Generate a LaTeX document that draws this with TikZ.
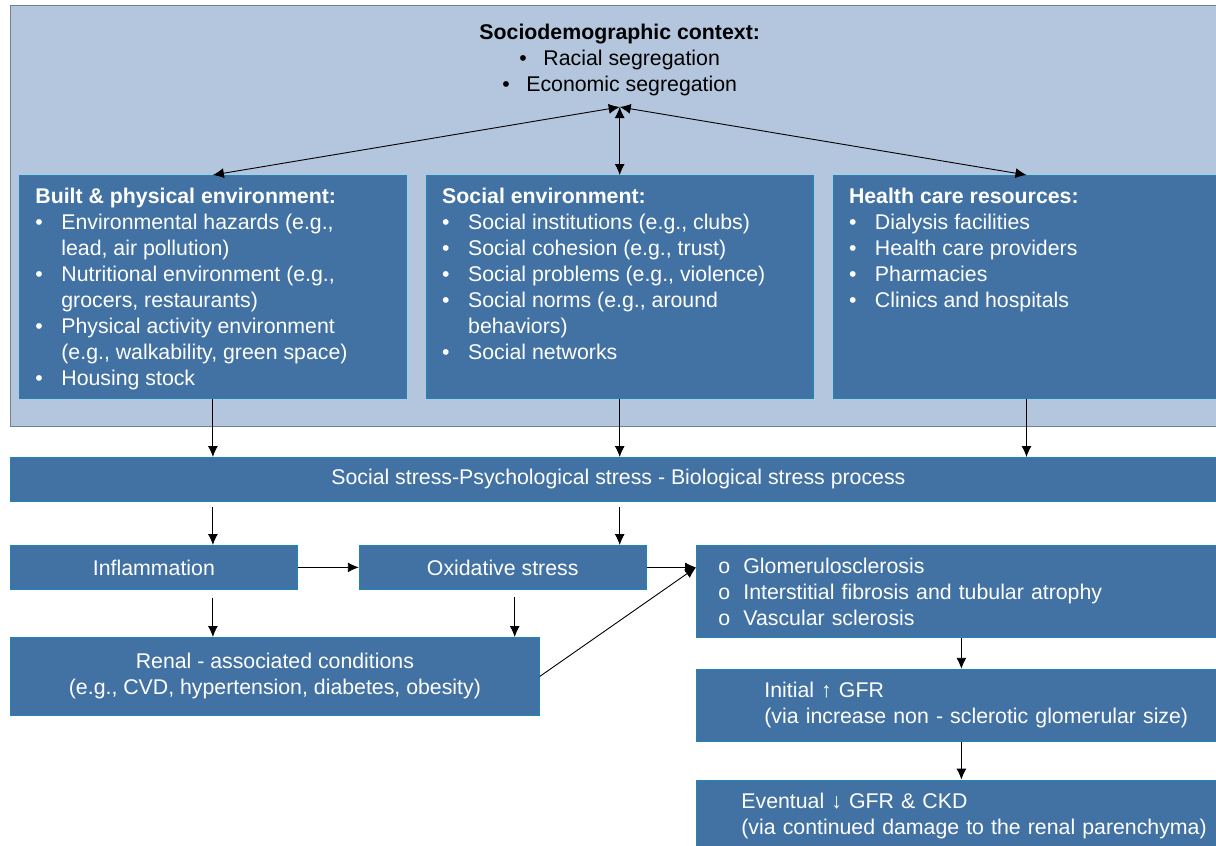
\documentclass[tikz,border=0pt]{standalone}
\usepackage{fontspec}
\setmainfont{Liberation Sans}
\usetikzlibrary{arrows.meta,positioning}

\definecolor{ctxfill}{HTML}{B4C6DD}
\definecolor{ctxline}{HTML}{6F8097}
\definecolor{boxfill}{HTML}{4272A4}
\definecolor{boxline}{HTML}{1E86B4}

\newcommand{\bul}{\makebox[26pt][l]{\textbullet}}
\newcommand{\cont}{\hspace*{26pt}}
\newcommand{\sub}{\hspace*{12pt}\makebox[25pt][l]{o}}

\begin{document}
\begin{tikzpicture}[x=1pt, y=-1pt, > = {Latex[length=11pt, width=10pt]}]
    \tikzset{
      blk/.style={draw=boxline, fill=boxfill, text=white, line width=0.8pt, font=\fontsize{21.3}{26}\selectfont},
      envbox/.style={blk, anchor=north west, inner xsep=16pt, inner ysep=13pt, minimum width=387pt, minimum height=223pt},
      bar/.style={blk, anchor=north west, inner sep=0pt, minimum height=44pt},
      listbox/.style={blk, anchor=north west, inner xsep=10pt, inner ysep=0pt, text width=510pt, align=left, minimum width=530pt},
      ctxtext/.style={align=center, inner sep=0pt, font=\fontsize{21.3}{26}\selectfont},
      flow/.style={->, line width=0.9pt},
    }
    \useasboundingbox (0,0) rectangle (1216,846);

    % sociodemographic context
    \draw[draw=ctxline, fill=ctxfill, line width=0.8pt] (10,5) rectangle (1230,426);

    \node[envbox] (built) at (19,175) {\parbox[c][197pt][t]{355pt}{%
      \textbf{Built \& physical environment:}\\
      \bul Environmental hazards (e.g.,\\
      \cont lead, air pollution)\\
      \bul Nutritional environment (e.g.,\\
      \cont grocers, restaurants)\\
      \bul Physical activity environment\\
      \cont (e.g., walkability, green space)\\
      \bul Housing stock}};
    \node[envbox, right=19pt of built] (social) {\parbox[c][197pt][t]{355pt}{%
      \textbf{Social environment:}\\
      \bul Social institutions (e.g., clubs)\\
      \bul Social cohesion (e.g., trust)\\
      \bul Social problems (e.g., violence)\\
      \bul Social norms (e.g., around\\
      \cont behaviors)\\
      \bul Social networks}};
    \node[envbox, right=19pt of social] (health) {\parbox[c][197pt][t]{355pt}{%
      \textbf{Health care resources:}\\
      \bul Dialysis facilities\\
      \bul Health care providers\\
      \bul Pharmacies\\
      \bul Clinics and hospitals}};

    \coordinate (hub) at ([yshift=68pt]social.north);
    \node[ctxtext, above=11pt of hub] (ctx) {\textbf{Sociodemographic context:}\\
      \makebox[24pt][l]{\textbullet}Racial segregation\\
      \makebox[24pt][l]{\textbullet}Economic segregation};

    \draw[<->, line width=0.9pt] (hub) -- (built.north);
    \draw[<->, line width=0.9pt] (hub) -- (social.north);
    \draw[<->, line width=0.9pt] (hub) -- (health.north);

    % stress process
    \node[bar, minimum width=1216pt] (stress) at (10,457) {Social stress-Psychological stress - Biological stress process};
    \draw[flow] (built.south) -- (built.south |- stress.north);
    \draw[flow] (social.south) -- (social.south |- stress.north);
    \draw[flow] (health.south) -- (health.south |- stress.north);

    \node[bar, minimum width=287pt] (inflam) at (10,545) {Inflammation};
    \node[bar, minimum width=287pt, right=61pt of inflam] (oxi) {Oxidative stress};
    \node[bar, minimum width=529pt, minimum height=78pt, align=center] (renal) at (10,637)
      {Renal - associated conditions\\(e.g., CVD, hypertension, diabetes, obesity)};

    \draw[flow, shorten <=5pt] (stress.south -| built.south) -- (built.south |- inflam.north);
    \draw[flow, shorten <=5pt] (stress.south -| social.south) -- (social.south |- oxi.north);
    \draw[flow] (inflam.east) -- (oxi.west);
    \draw[flow, shorten <=8pt] (inflam.south -| built.south) -- (built.south |- renal.north);
    \coordinate (oxd) at ([xshift=12pt]oxi.south);
    \draw[flow, shorten <=7pt] (oxd) -- (oxd |- renal.north);

    % kidney damage
    \node[listbox, minimum height=92pt] (glom) at (696,545) {\sub Glomerulosclerosis\\
      \sub Interstitial fibrosis and tubular atrophy\\
      \sub Vascular sclerosis};
    \node[listbox, minimum height=72pt, below=31pt of glom] (init) {\hspace*{58pt}Initial ↑ GFR\\
      \hspace*{58pt}(via increase non - sclerotic glomerular size)};
    \node[listbox, minimum height=72pt, below=38pt of init] (event) {\hspace*{35pt}Eventual ↓ GFR \& CKD\\
      \hspace*{35pt}(via continued damage to the renal parenchyma)};

    \draw[flow] (oxi.east) -- (oxi.east -| glom.west);
    \draw[flow] (renal.east) -- (oxi.east -| glom.west);
    \draw[flow] (glom.south) -- (init.north);
    \draw[flow] (init.south) -- (event.north);

  \end{tikzpicture}
\end{document}
